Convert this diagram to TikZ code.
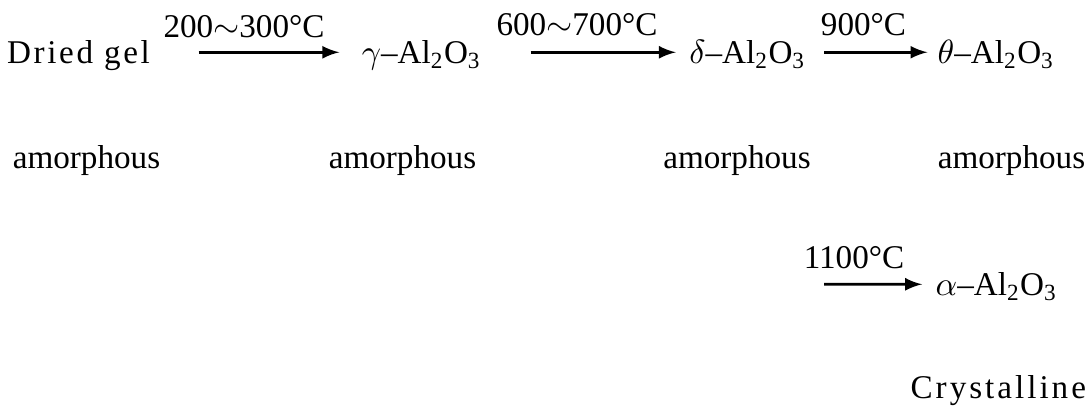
\documentclass[tikz,border=0pt]{standalone}
\usepackage{fontspec}
\setmainfont{Liberation Serif}
\usepackage{tikz}
\usetikzlibrary{arrows}
\newcommand{\alox}{Al\textsubscript{2}O\textsubscript{3}}
\newcommand{\spaced}[1]{\addfontfeature{LetterSpace=#1}}

\begin{document}
\begin{tikzpicture}[x=0.3257pt, y=-0.3257pt, font=\fontsize{10.8}{13}\selectfont,
		phase/.style={inner sep=0pt, anchor=base, text height=9pt, text depth=2pt},
		temp/.style={inner sep=0pt, anchor=base},
		conv/.style={-latex, line width=0.9pt}]
		\useasboundingbox (0,0) rectangle (1092,405);
		
		% first row: the phases
		\node[phase, minimum width=143*0.3257pt] (gel) at (78.5,63) {\spaced{8}Dried gel};
		\node[phase, minimum width=113*0.3257pt] (gam) at (421.5,63) {$\gamma$--\alox};
		\node[phase, minimum width=115*0.3257pt] (del) at (747.5,63) {$\delta$--\alox};
		\node[phase, minimum width=122*0.3257pt] (the) at (996,63) {$\theta$--\alox};
		
		\draw[conv, shorten <=48*0.3257pt, shorten >=22*0.3257pt] (gel) -- (gam);
		\draw[conv, shorten <=49*0.3257pt, shorten >=13*0.3257pt] (gam) -- (del);
		\draw[conv, shorten <=18*0.3257pt, shorten >=7*0.3257pt] (del) -- (the);
		
		\node[temp] (t1) at (244,37) {200$\sim$300°C};
		\node[temp] (t2) at (577,35) {600$\sim$700°C};
		\node[temp] (t3) at (863.5,35) {900°C};
		
		% second row
		\node[temp] (am1) at (86.5,168) {amorphous};
		\node[temp] (am2) at (402.5,168) {amorphous};
		\node[temp] (am3) at (737,168) {amorphous};
		\node[temp] (am4) at (1011.5,168) {amorphous};
		
		% last step
		\node[phase, minimum width=117*0.3257pt] (alp) at (996.5,295) {$\alpha$--\alox};
		\coordinate (a4) at (824,284.3);
		\draw[conv, shorten >=13*0.3257pt] (a4) -- (alp);
		\node[temp] (t4) at (854,268) {1100°C};
		
		\node[temp, anchor=base west] (cry) at (910,398) {\spaced{9}Crystalline};
	\end{tikzpicture}
\end{document}
